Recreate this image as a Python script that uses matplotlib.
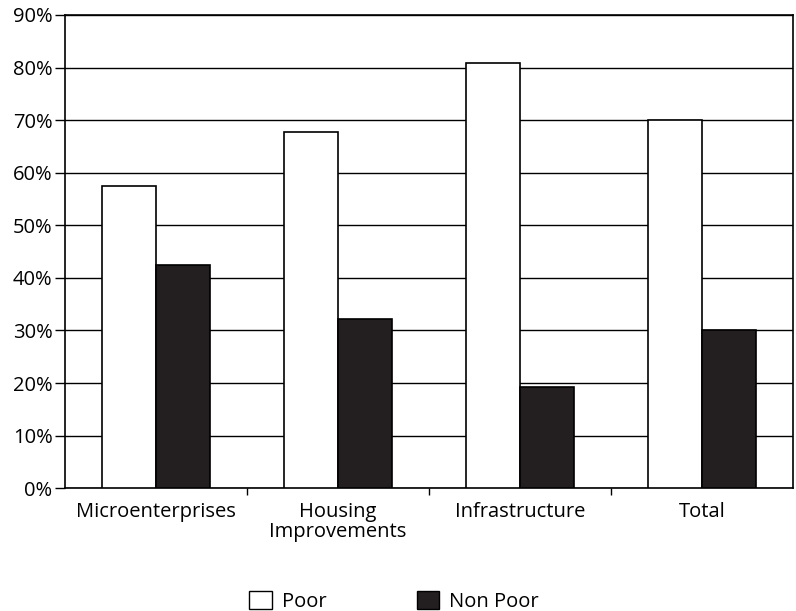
import numpy as np
import matplotlib.pyplot as plt
from matplotlib.patches import Patch
from matplotlib.ticker import FixedLocator

categories = ['Microenterprises', 'Housing\nImprovements', 'Infrastructure', 'Total']
poor = [57.5, 67.8, 80.8, 70.0]
non_poor = [42.5, 32.2, 19.2, 30.0]

plt.rcParams['font.family'] = ['Open Sans', 'DejaVu Sans']
FS = 14.5

fig = plt.figure(figsize=(7.96, 6.11), dpi=100)
ax = fig.add_axes([0.0817, 0.201, 0.9143, 0.7745])

x = np.arange(len(categories))
w = 0.295
ax.bar(x - w / 2, poor, w, color='white', edgecolor='black', linewidth=1.2, zorder=3)
ax.bar(x + w / 2, non_poor, w, color='#231f20', edgecolor='black', linewidth=1.2, zorder=3)

ax.set_xlim(-0.5, len(categories) - 0.5)
ax.set_ylim(0, 90)
ax.set_yticks(np.arange(0, 91, 10))
ax.set_yticklabels([f'{v}%' for v in range(0, 91, 10)], fontsize=FS)
ax.yaxis.grid(True, color='black', linewidth=1.0, zorder=0)
ax.set_axisbelow(True)

ax.set_xticks(x)
ax.set_xticklabels(categories, fontsize=FS, linespacing=1.0)
ax.tick_params(axis='x', length=0, pad=10)
ax.xaxis.set_minor_locator(FixedLocator([0.5, 1.5, 2.5]))
ax.tick_params(axis='x', which='minor', length=5, direction='out', width=1)
ax.tick_params(axis='y', length=7, direction='out', width=1, pad=2)

for s in ax.spines.values():
    s.set_linewidth(1.2)
    s.set_color('black')

handles = [Patch(facecolor='white', edgecolor='black', label='Poor'),
           Patch(facecolor='#231f20', edgecolor='black', label='Non Poor')]
fig.legend(handles=handles, loc='center', bbox_to_anchor=(0.495, 0.016), ncol=2,
           frameon=False, fontsize=FS, handlelength=1.1, handleheight=1.0,
           columnspacing=4.5, handletextpad=0.5, borderpad=0)

fig.savefig('out.png', dpi=100)
